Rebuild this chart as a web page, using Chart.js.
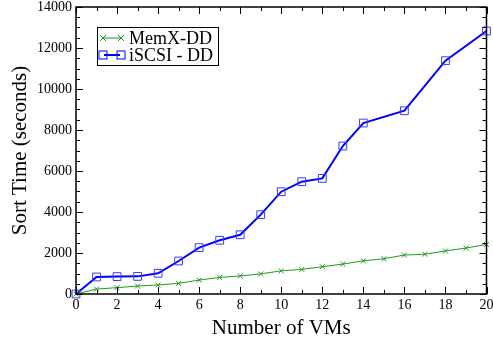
<!DOCTYPE html>
<html>
<head>
<meta charset="utf-8">
<script src="https://cdn.jsdelivr.net/npm/chart.js"></script>
<style>
  html, body { margin:0; padding:0; background:#fff; }
  #wrap { width:493px; height:344px; }
</style>
</head>
<body>
<div id="wrap"><canvas id="chart"></canvas></div>
<script>
// data
const memxX = [0,1,2,3,4,5,6,7,8,9,10,11,12,13,14,15,16,17,18,19,20];
const memxY = [0,240,310,390,440,520,680,810,880,980,1130,1200,1330,1460,1620,1720,1900,1940,2100,2240,2420];
const iscsiX = [0,1,2,3,4,5,6,7,8,9,10,11,12,13,14,16,18,20];
const iscsiY = [0,830,850,860,1010,1610,2260,2620,2890,3870,4990,5480,5640,7220,8340,8940,11380,12830];
const seriesNames = ["MemX-DD", "iSCSI - DD"];

const GREEN = "#1f9a1f";
const BLUE = "#0000ff";
const FONT = "'Liberation Serif', 'Times New Roman', serif";

const toPts = (xs, ys) => xs.map((x, i) => ({ x: x, y: ys[i] }));

// frame, inward ticks on all four sides, and the boxed legend
const framePlugin = {
  id: "frame",
  afterDatasetsDraw(chart) {
    const { ctx, chartArea: a, scales } = chart;
    const xs = scales.x, ys = scales.y;
    ctx.save();
    ctx.strokeStyle = "#000";
    ctx.lineWidth = 1;
    ctx.beginPath();
    for (let v = 0; v <= 20; v++) {
      const px = Math.round(xs.getPixelForValue(v)) + 0.5;
      const len = v % 2 === 0 ? 7 : 4;
      ctx.moveTo(px, a.bottom); ctx.lineTo(px, a.bottom - len);
      ctx.moveTo(px, a.top); ctx.lineTo(px, a.top + len);
    }
    for (let v = 0; v <= 14000; v += 500) {
      const py = Math.round(ys.getPixelForValue(v)) + 0.5;
      const len = v % 2000 === 0 ? 7 : 4;
      ctx.moveTo(a.left, py); ctx.lineTo(a.left + len, py);
      ctx.moveTo(a.right, py); ctx.lineTo(a.right - len, py);
    }
    ctx.stroke();
    ctx.lineWidth = 1.5;
    ctx.strokeRect(a.left, a.top, a.right - a.left, a.bottom - a.top);

    // legend
    const lx = 97, ly = 27, lw = 121, lh = 38;
    ctx.lineWidth = 1;
    ctx.fillStyle = "#fff";
    ctx.fillRect(lx, ly, lw, lh);
    ctx.strokeStyle = "#000";
    ctx.strokeRect(lx + 0.5, ly + 0.5, lw, lh);
    ctx.font = "18px " + FONT;
    ctx.textBaseline = "middle";
    const rows = [ly + 11, ly + 28];
    // MemX row
    ctx.strokeStyle = GREEN;
    ctx.lineWidth = 1;
    ctx.beginPath();
    ctx.moveTo(103, rows[0]); ctx.lineTo(121, rows[0]);
    [103, 121].forEach(cx => {
      ctx.moveTo(cx - 3, rows[0] - 3); ctx.lineTo(cx + 3, rows[0] + 3);
      ctx.moveTo(cx - 3, rows[0] + 3); ctx.lineTo(cx + 3, rows[0] - 3);
    });
    ctx.stroke();
    // iSCSI row
    ctx.strokeStyle = BLUE;
    ctx.lineWidth = 2;
    ctx.beginPath();
    ctx.moveTo(104, rows[1]); ctx.lineTo(120, rows[1]);
    ctx.stroke();
    ctx.lineWidth = 1;
    [103, 121].forEach(cx => ctx.strokeRect(cx - 4, rows[1] - 4, 8, 8));
    ctx.fillStyle = "#000";
    ctx.fillText(seriesNames[0], 129, rows[0] + 1);
    ctx.fillText(seriesNames[1], 129, rows[1] + 1);
    ctx.restore();
  }
};

new Chart(document.getElementById("chart"), {
  type: "line",
  data: {
    datasets: [
      {
        label: seriesNames[0],
        data: toPts(memxX, memxY),
        borderColor: GREEN,
        borderWidth: 1,
        pointStyle: "crossRot",
        pointRadius: 3.5,
        pointBorderColor: GREEN,
        pointBorderWidth: 1,
        tension: 0,
        clip: false
      },
      {
        label: seriesNames[1],
        data: toPts(iscsiX, iscsiY),
        borderColor: BLUE,
        borderWidth: 2,
        pointStyle: "rect",
        pointRadius: 5.5,
        pointBackgroundColor: "rgba(0,0,0,0)",
        pointBorderColor: "#3b3bff",
        pointBorderWidth: 1,
        tension: 0,
        clip: false
      }
    ]
  },
  options: {
    responsive: true,
    maintainAspectRatio: false,
    animation: false,
    events: [],
    layout: { padding: { left: 0, top: 7, right: 6, bottom: 0 } },
    plugins: { legend: { display: false }, tooltip: { enabled: false } },
    scales: {
      x: {
        type: "linear",
        min: 0, max: 20,
        grid: { display: false, drawTicks: false },
        border: { display: false },
        ticks: { stepSize: 2, padding: 4, color: "#000", font: { family: FONT, size: 14, lineHeight: 1 } },
        title: { display: true, text: "Number of VMs", color: "#000", font: { family: FONT, size: 21 }, padding: { top: 4, bottom: 3 } },
        afterFit: s => { s.height = 50; s.paddingLeft = 0; s.paddingRight = 0; }
      },
      y: {
        min: 0, max: 14000,
        grid: { display: false, drawTicks: false },
        border: { display: false },
        ticks: { stepSize: 2000, padding: 4, color: "#000", font: { family: FONT, size: 14, lineHeight: 1 }, callback: v => String(v) },
        title: { display: true, text: "Sort Time (seconds)", color: "#000", font: { family: FONT, size: 21 }, padding: { top: 8, bottom: 0 } },
        afterFit: s => { s.width = 76; s.paddingTop = 0; s.paddingBottom = 0; }
      }
    }
  },
  plugins: [framePlugin]
});
</script>
</body>
</html>
